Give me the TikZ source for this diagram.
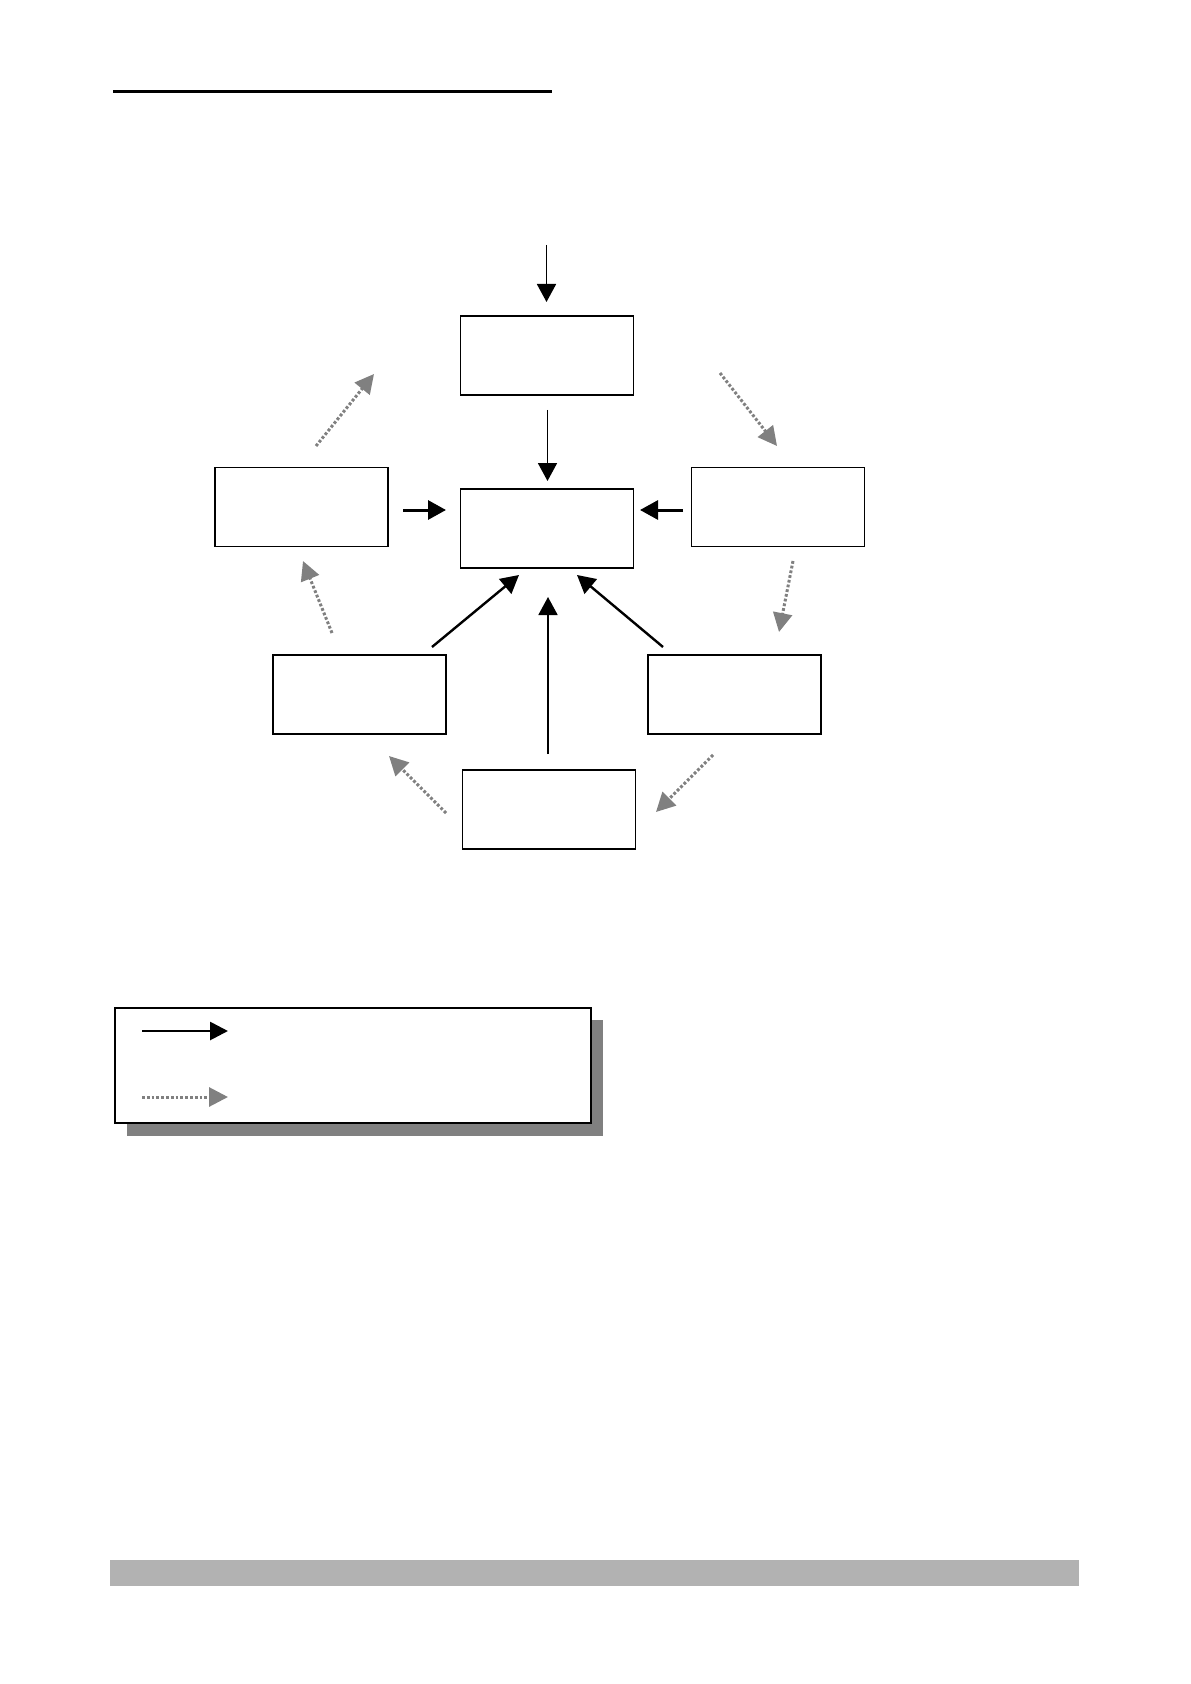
\documentclass[tikz,border=0pt]{standalone}
\usetikzlibrary{arrows.meta}
\definecolor{dotgray}{HTML}{808080}
\definecolor{bargray}{HTML}{B2B2B2}
\def\boxw{86.5pt}
\def\boxh{39.5pt}
\begin{document}
\begin{tikzpicture}[x=0.5pt, y=-0.5pt,
    box/.style={draw, line width=0.9pt, fill=white, minimum width=\boxw, minimum height=\boxh, inner sep=0pt},
    flow/.style={line width=0.9pt, -{Triangle[length=9pt, width=9.5pt]}},
    push/.style={line width=1.5pt, -{Triangle[length=9pt, width=9.5pt]}},
    pull/.style={line width=1.2pt, -{Triangle[length=9pt, width=9.5pt]}},
    cycle/.style={dotgray, line width=1.5pt, dash pattern=on 1.4pt off 1pt, -{Triangle[length=9.5pt, width=9.5pt]}}]
    % Page frame.
    \useasboundingbox (0, 0) rectangle (1190, 1684);
    \draw[line width=1.5pt] (113, 92) -- (552, 92);

    % Boxes of the cycle.
    \node[box] (top) at (547, 355.8) {};
    \node[box] (core) at (547, 528.3) {};
    \node[box] (left) at (301.5, 507) {};
    \node[box] (right) at (778, 507) {};
    \node[box] (lowleft) at (359.5, 694.3) {};
    \node[box] (lowright) at (734.5, 694.3) {};
    \node[box] (bottom) at (549, 809.5) {};

    % Arrow ends, kept clear of the boxes.
    \coordinate (in) at (546.5, 245);
    \coordinate (intip) at (546.5, 302);
    \coordinate (topout) at (547.5, 410);
    \coordinate (coretop) at (547.5, 481);
    \coordinate (leftout) at (403, 510);
    \coordinate (coreleft) at (446, 510);
    \coordinate (rightout) at (683, 510);
    \coordinate (coreright) at (640, 510);
    \coordinate (llout) at (432, 647);
    \coordinate (corell) at (519, 575);
    \coordinate (lrout) at (663, 647);
    \coordinate (corelr) at (577, 575);
    \coordinate (bottomout) at (548, 754);
    \coordinate (corebottom) at (548, 597);

    % Solid arrows into the core box.
    \draw[flow] (in) -- (intip);
    \draw[flow] (topout) -- (coretop);
    \draw[push] (leftout) -- (coreleft);
    \draw[push] (rightout) -- (coreright);
    \draw[pull] (llout) -- (corell);
    \draw[pull] (lrout) -- (corelr);
    \draw[flow] (bottomout) -- (corebottom);

    % Dotted arrows round the cycle.
    \coordinate (c1a) at (720, 373);   \coordinate (c1b) at (777, 446);
    \coordinate (c2a) at (793, 561);   \coordinate (c2b) at (779, 632);
    \coordinate (c3a) at (713, 755);   \coordinate (c3b) at (656, 812);
    \coordinate (c4a) at (446, 813);   \coordinate (c4b) at (389, 756);
    \coordinate (c5a) at (332, 633);   \coordinate (c5b) at (303, 561);
    \coordinate (c6a) at (316, 446);   \coordinate (c6b) at (374, 374);
    \foreach \k in {1,...,6} {
            \draw[cycle] (c\k a) -- (c\k b);
        }

    % Legend with shadow.
    \fill[dotgray] (127, 1020) rectangle (603, 1136);
    \draw[line width=1.1pt, fill=white] (115, 1008) rectangle (591, 1123);
    \coordinate (keya) at (142, 1031);
    \coordinate (keyb) at (228, 1031);
    \coordinate (keyc) at (142, 1097);
    \coordinate (keyd) at (228, 1097);
    \draw[line width=1.4pt, -{Triangle[length=9pt, width=9pt]}] (keya) -- (keyb);
    \draw[cycle] (keyc) -- (keyd);

    % Footer bar.
    \fill[bargray] (110, 1560) rectangle (1079, 1586);
\end{tikzpicture}
\end{document}
